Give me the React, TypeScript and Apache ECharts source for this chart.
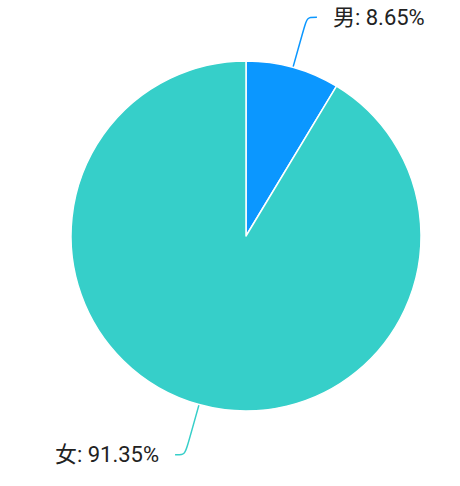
import React, { useEffect, useRef } from "react";
import * as echarts from "echarts";

const categories = ["男", "女"];
const values = [8.65, 91.35];
const colors = ["#0b97ff", "#36cfc9"];

export default function App() {
  const ref = useRef<HTMLDivElement>(null);
  useEffect(() => {
    if (!ref.current) return;
    const chart = echarts.init(ref.current, undefined, { renderer: "svg" });
    chart.setOption({
      animation: false,
      color: colors,
      series: [
        {
          type: "pie",
          center: [246, 236],
          radius: 175,
          startAngle: 90,
          clockwise: true,
          itemStyle: { borderColor: "#fff", borderWidth: 1.5 },
          label: {
            formatter: (p: any) => `${p.name}: ${p.value.toFixed(2)}%`,
            fontSize: 22,
            color: "#222",
            fontFamily: "Roboto, 'Noto Sans CJK SC', sans-serif",
            distanceToLabelLine: 16,
            padding: [14, 0, 0, 0],
          },
          labelLine: { length: 52, length2: 10, smooth: true, lineStyle: { width: 1.5 } },
          data: categories.map((c, i) => ({ name: c, value: values[i] })),
        },
      ],
    });
    return () => chart.dispose();
  }, []);
  return (
    <div
      ref={ref}
      style={{ position: "absolute", left: 0, top: 0, width: 460, height: 486 }}
    />
  );
}
